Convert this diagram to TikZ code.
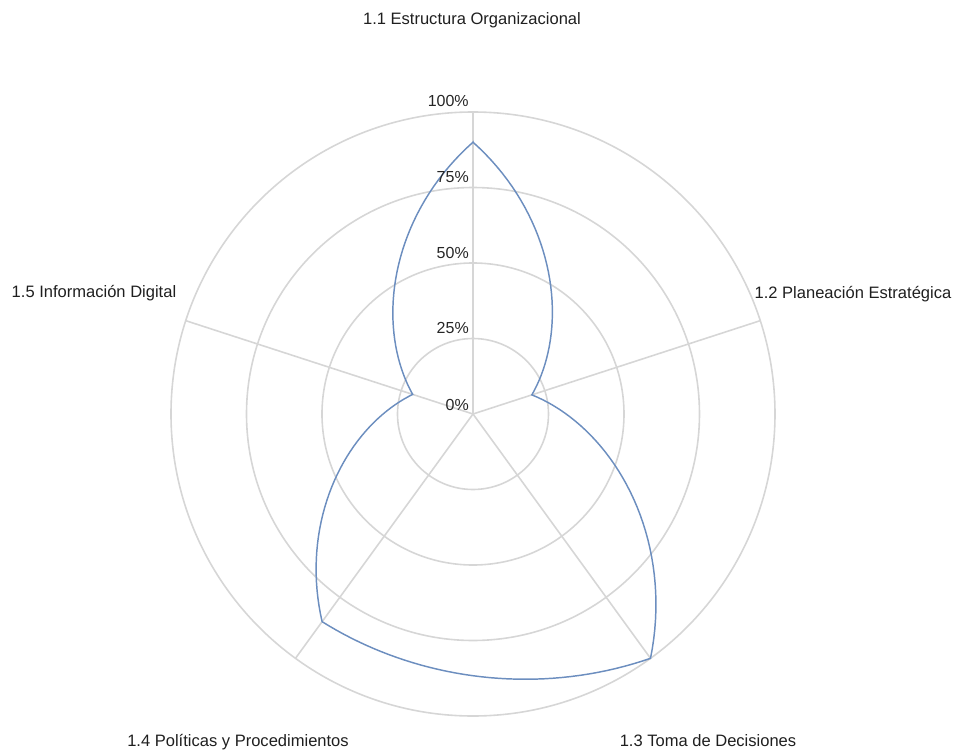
\documentclass[tikz,border=0pt]{standalone}
\usepackage{fontspec}
\setmainfont{Liberation Sans}
\usetikzlibrary{positioning}
\definecolor{gridgray}{RGB}{214,214,214}
\definecolor{serieblue}{RGB}{108,142,191}

\begin{document}
\begin{tikzpicture}[x=0.75pt, y=0.75pt,
    grid/.style={draw=gridgray, line width=1.2pt},
    dataline/.style={draw=serieblue, line width=1.1pt, line join=miter},
    cat/.style={font=\fontsize{12.4}{14}\selectfont, inner sep=0pt, anchor=base, text=black!88},
    tick/.style={font=\fontsize{12}{14}\selectfont, inner sep=0pt, anchor=base east, text=black!85}]

    \useasboundingbox (-473,-337) rectangle (481,414);
    \coordinate (o) at (0,0);

    % anillos
    \foreach \r in {75.5,151,226.5,302}
        \draw[grid] (o) circle (\r);

    % ejes
    \foreach \k/\ang in {1/90, 2/18, 3/-54, 4/-126, 5/162}
        \coordinate (a\k) at (\ang:302);
    \foreach \k in {1,...,5}
        \draw[grid] (o) -- (a\k);

    % serie: tramo curvo entre dos valores (mezcla espiral / cuerda)
    \def\w{0.32}
    \draw[dataline] (90:271.8)
        \foreach \r/\s [count=\i from 0, evaluate=\i as \a using 90-72*\i] in
            {0.90/0.205, 0.205/1.00, 1.00/0.85, 0.85/0.21, 0.21/0.90} {
            -- plot[domain=0:1, samples=40]
                ({(1-\w)*302*(\r+(\s-\r)*\x)*cos(\a-72*\x) + \w*302*((1-\x)*\r*cos(\a)+\x*\s*cos(\a-72))},
                 {(1-\w)*302*(\r+(\s-\r)*\x)*sin(\a-72*\x) + \w*302*((1-\x)*\r*sin(\a)+\x*\s*sin(\a-72))})
        } -- cycle;

    % escala
    \node[tick] (t0) at (-4,4) {0\%};
    \node[tick] (t25) at (-4,80.5) {25\%};
    \node[tick] (t50) at (-4,156) {50\%};
    \node[tick] (t75) at (-4,231.5) {75\%};
    \node[tick] (t100) at (-4,308) {100\%};

    % categorias
    \node[cat] (l1) at (-1,390) {1.1 Estructura Organizacional};
    \node[cat] (l2) at (380,115.7) {1.2 Planeación Estratégica};
    \node[cat] (l3) at (235,-332) {1.3 Toma de Decisiones};
    \node[cat] (l4) at (-235,-332) {1.4 Políticas y Procedimientos};
    \node[cat] (l5) at (-379,116.7) {1.5 Información Digital};

\end{tikzpicture}
\end{document}
